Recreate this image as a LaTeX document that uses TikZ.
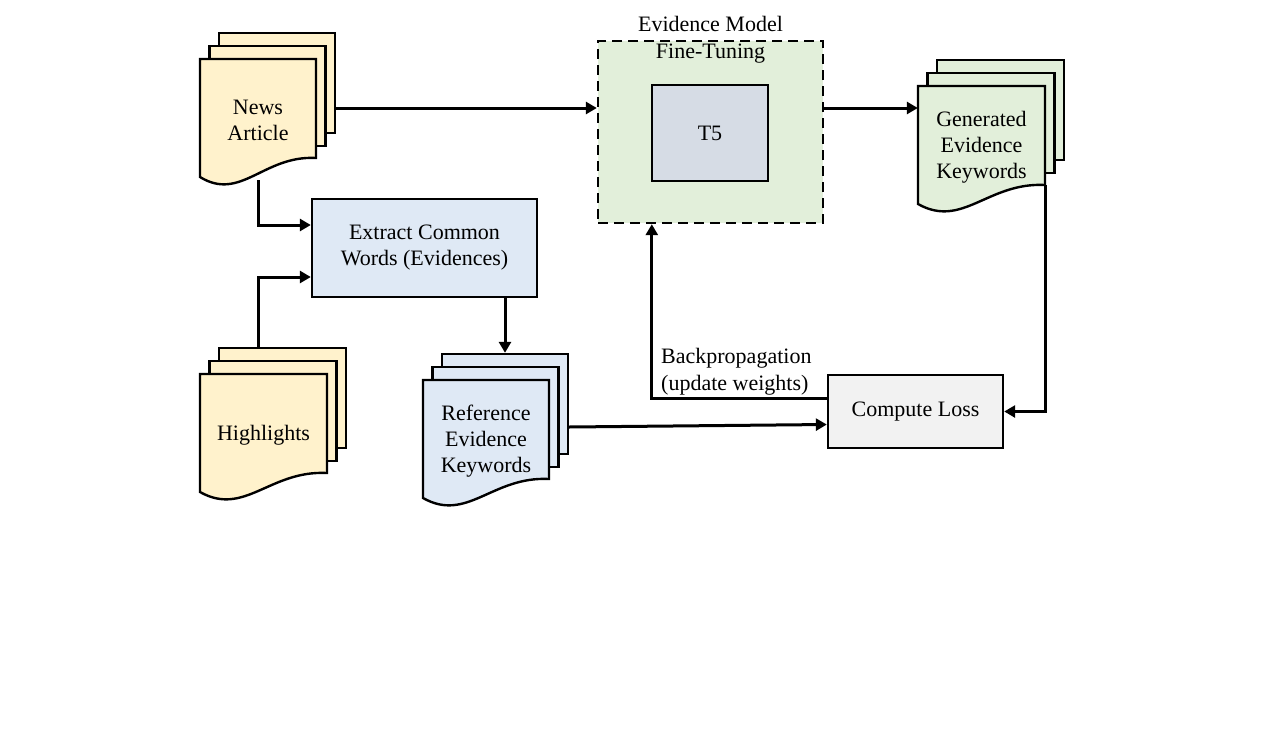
\documentclass[tikz,border=0pt]{standalone}
\usepackage{fontspec}
\setmainfont{Liberation Serif}
\usepackage{xcolor}
\usepackage{tikz}
\usetikzlibrary{calc,arrows.meta,positioning}
\definecolor{docyellow}{HTML}{FFF2CC}
\definecolor{docblue}{HTML}{DFE9F5}
\definecolor{docgreen}{HTML}{E2EFDA}
\definecolor{modelgray}{HTML}{D6DCE5}
\definecolor{lossgray}{HTML}{F2F2F2}
% stack of three pages: x, y (top left of front page), width, fill, name, text
\newcommand{\docstack}[6]{
    \node[docpage, fill=#4, minimum width=#3pt] (#5-back) at ({#1+19+#3/2},{#2+24}) {};
    \node[docpage, fill=#4, minimum width=#3pt] (#5-mid) at ({#1+9.5+#3/2},{#2+37}) {};
    \filldraw[docline, fill=#4] (#1,#2) -- ++(#3,0) -- ++(0,99) coordinate (#5-corner)
        .. controls +({-0.45*#3},-3) and +({0.35*#3},25) .. ++(-#3,19) -- cycle;
    \node[doctext, minimum width=#3pt] (#5) at ({#1+#3/2},{#2+61}) {#6};
}

\begin{document}
\begin{tikzpicture}[x=1pt, y=-1pt,
        docline/.style={line width=2.4pt, draw=black},
        docpage/.style={docline, rectangle, inner sep=0pt, minimum height=100pt},
        doctext/.style={inner sep=0pt, minimum height=120pt, align=center, font=\fontsize{22}{26}\selectfont},
        procbox/.style={docline, rectangle, inner sep=0pt, align=center, font=\fontsize{22}{26}\selectfont},
        plaintext/.style={inner sep=0pt, align=center, font=\fontsize{22}{27}\selectfont},
        flow/.style={line width=3pt, -{Triangle[length=11pt,width=12pt]}}]
        \useasboundingbox (0,0) rectangle (1284,731);

        % documents
        \docstack{200}{59}{116}{docyellow}{news}{News\\Article}
        \docstack{200}{374}{127}{docyellow}{hl}{Highlights}
        \docstack{423}{380}{126}{docblue}{ref}{Reference\\Evidence\\Keywords}
        \docstack{918}{86}{127}{docgreen}{gen}{Generated\\Evidence\\Keywords}

        % boxes
        \node[procbox, fill=docblue, minimum width=225pt, minimum height=98pt] (extract) at (424.5,248) {Extract Common\\Words (Evidences)};
        \node[procbox, fill=docgreen, dash pattern=on 10pt off 6pt, minimum width=225pt, minimum height=182pt] (model) at (710.5,132) {};
        \node[procbox, fill=modelgray, minimum width=116pt, minimum height=96pt] (t5) at (710,133) {T5};
        \node[procbox, fill=lossgray, minimum width=175pt, minimum height=73pt] (loss) at (915.5,411.5) {Compute Loss};

        % Text
        \node[plaintext] (modeltitle) at (model.north) {Evidence Model\\Fine-Tuning};
        \node[plaintext, align=left, anchor=west] (bplabel) at (661,372) {Backpropagation\\(update weights)};

        % arrows
        \draw[flow] ($(news-back.east)+(0,25)$) coordinate (n-out) -- (n-out -| model.west);
        \draw[flow] (news.south) |- ($(extract.west)+(0,-23)$);
        \draw[flow] (news.south |- hl-back.north) |- ($(extract.west)+(0,29)$);
        \draw[flow] (extract.south -| ref-back.north) -- (ref-back.north);
        \draw[flow] ($(model.east)+(0,-24)$) coordinate (m-out) -- (m-out -| gen.west);
        \draw[flow] (gen-corner) |- (loss.east);
        \draw[flow] ($(loss.west)+(0,-13)$) -| ($(model.south west)+(55,0)$);
        \draw[flow] ($(ref-back.east)+(0,23)$) -- ($(loss.west)+(0,13)$);

    \end{tikzpicture}
\end{document}
